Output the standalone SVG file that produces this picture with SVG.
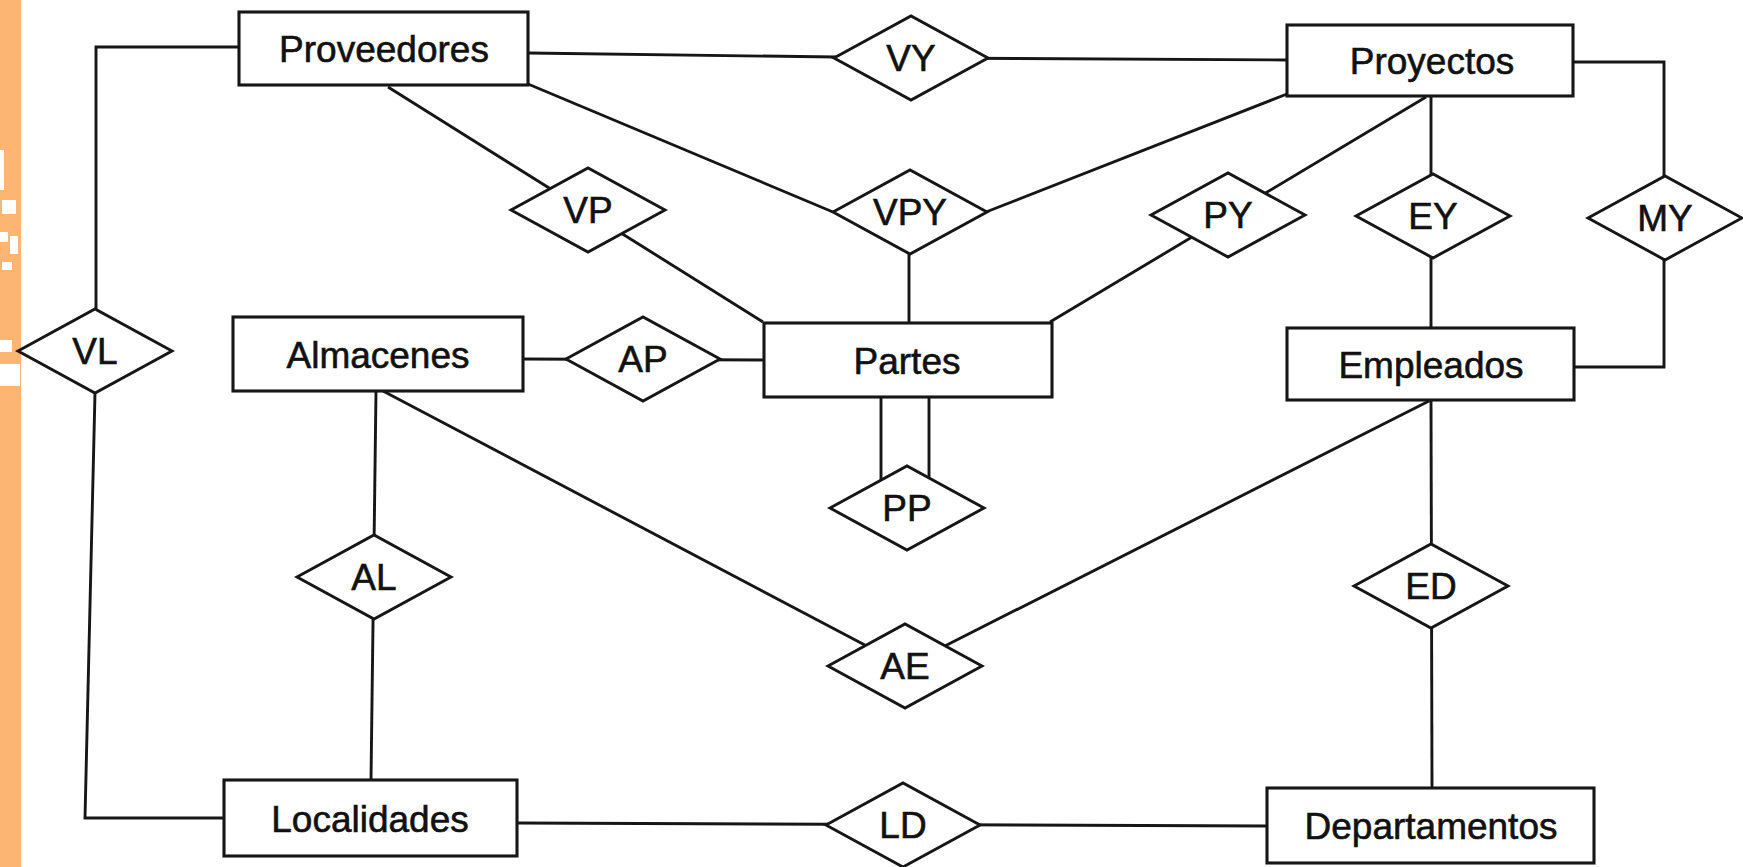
<svg xmlns="http://www.w3.org/2000/svg" xmlns:xlink="http://www.w3.org/1999/xlink" width="1743" height="867" viewBox="0 0 1743 867">
  <style>
    .edge { fill: none; stroke: #161616; stroke-width: 2.9; stroke-linejoin: miter; }
    .ent { fill: #ffffff; stroke: #161616; stroke-width: 3.1; }
    .rel { fill: #ffffff; stroke: #161616; stroke-width: 2.9; }
    .lbl { font-family: "Liberation Sans", Arial, Helvetica, sans-serif; font-size: 37px; fill: #111111; stroke: #111111; stroke-width: 0.6; text-anchor: middle; }
  </style>
  <defs>
    <!-- relationship diamond centred on 0,0 -->
    <polygon id="diamond" points="-77,0 0,-42 77,0 0,42"/>
  </defs>

  <!-- page background and left margin band -->
  <rect x="0" y="0" width="1743" height="867" fill="#ffffff"/>
  <rect x="0" y="0" width="21" height="867" fill="#fdb574"/>
  <g fill="#ffffff">
    <rect x="0" y="150" width="4" height="40"/>
    <rect x="2" y="200" width="14" height="14"/>
    <rect x="0" y="232" width="8" height="10"/>
    <rect x="10" y="236" width="8" height="18"/>
    <rect x="2" y="262" width="10" height="8"/>
    <rect x="0" y="340" width="12" height="12"/>
    <rect x="0" y="364" width="20" height="22"/>
  </g>

  <!-- relationship lines -->
  <g id="connectors" class="edge">
    <polyline points="239,47 96,47 96,309"/>
    <polyline points="95,393 85,818 224,818"/>
    <polyline points="528,53 911,58 1287,60"/>
    <line x1="388" y1="87" x2="763" y2="322"/>
    <line x1="528" y1="84" x2="833" y2="212"/>
    <line x1="986" y1="212" x2="1287" y2="94"/>
    <line x1="909" y1="254" x2="909" y2="323"/>
    <line x1="1426" y1="97" x2="1050" y2="322"/>
    <line x1="1431" y1="96" x2="1431" y2="328"/>
    <polyline points="1573,62 1664,62 1664,367 1574,367"/>
    <line x1="523" y1="359" x2="764" y2="360"/>
    <line x1="376" y1="391" x2="371" y2="780"/>
    <line x1="383" y1="391" x2="880" y2="653"/>
    <line x1="1431" y1="400" x2="935" y2="651"/>
    <line x1="881" y1="397" x2="881" y2="505"/>
    <line x1="929" y1="397" x2="929" y2="505"/>
    <line x1="1431" y1="400" x2="1432" y2="788"/>
    <line x1="517" y1="823" x2="1267" y2="826"/>
  </g>

  <!-- entities -->
  <g id="proveedores">
    <rect class="ent" x="239" y="12" width="289" height="73"/>
    <text class="lbl" x="384" y="62">Proveedores</text>
  </g>
  <g id="proyectos">
    <rect class="ent" x="1287" y="25" width="286" height="71"/>
    <text class="lbl" x="1432" y="74">Proyectos</text>
  </g>
  <g id="almacenes">
    <rect class="ent" x="233" y="317" width="290" height="74"/>
    <text class="lbl" x="378" y="368">Almacenes</text>
  </g>
  <g id="partes">
    <rect class="ent" x="764" y="323" width="288" height="74"/>
    <text class="lbl" x="907" y="374">Partes</text>
  </g>
  <g id="empleados">
    <rect class="ent" x="1287" y="328" width="287" height="72"/>
    <text class="lbl" x="1431" y="378">Empleados</text>
  </g>
  <g id="localidades">
    <rect class="ent" x="224" y="780" width="293" height="76"/>
    <text class="lbl" x="370" y="832">Localidades</text>
  </g>
  <g id="departamentos">
    <rect class="ent" x="1267" y="788" width="327" height="75"/>
    <text class="lbl" x="1431" y="839">Departamentos</text>
  </g>

  <!-- relationships -->
  <g id="rel-vy">
    <use xlink:href="#diamond" class="rel" x="911" y="58"/>
    <text class="lbl" x="911" y="71">VY</text>
  </g>
  <g id="rel-vp">
    <use xlink:href="#diamond" class="rel" x="588" y="210"/>
    <text class="lbl" x="588" y="223">VP</text>
  </g>
  <g id="rel-vpy">
    <use xlink:href="#diamond" class="rel" x="910" y="212"/>
    <text class="lbl" x="910" y="225">VPY</text>
  </g>
  <g id="rel-py">
    <use xlink:href="#diamond" class="rel" x="1228" y="215"/>
    <text class="lbl" x="1228" y="228">PY</text>
  </g>
  <g id="rel-ey">
    <use xlink:href="#diamond" class="rel" x="1433" y="216"/>
    <text class="lbl" x="1433" y="229">EY</text>
  </g>
  <g id="rel-my">
    <use xlink:href="#diamond" class="rel" x="1665" y="218"/>
    <text class="lbl" x="1665" y="231">MY</text>
  </g>
  <g id="rel-vl">
    <use xlink:href="#diamond" class="rel" x="95" y="351"/>
    <text class="lbl" x="95" y="364">VL</text>
  </g>
  <g id="rel-ap">
    <use xlink:href="#diamond" class="rel" x="643" y="359"/>
    <text class="lbl" x="643" y="372">AP</text>
  </g>
  <g id="rel-pp">
    <use xlink:href="#diamond" class="rel" x="907" y="508"/>
    <text class="lbl" x="907" y="521">PP</text>
  </g>
  <g id="rel-al">
    <use xlink:href="#diamond" class="rel" x="374" y="577"/>
    <text class="lbl" x="374" y="590">AL</text>
  </g>
  <g id="rel-ae">
    <use xlink:href="#diamond" class="rel" x="905" y="666"/>
    <text class="lbl" x="905" y="679">AE</text>
  </g>
  <g id="rel-ed">
    <use xlink:href="#diamond" class="rel" x="1431" y="586"/>
    <text class="lbl" x="1431" y="599">ED</text>
  </g>
  <g id="rel-ld">
    <use xlink:href="#diamond" class="rel" x="903" y="825"/>
    <text class="lbl" x="903" y="838">LD</text>
  </g>
</svg>
